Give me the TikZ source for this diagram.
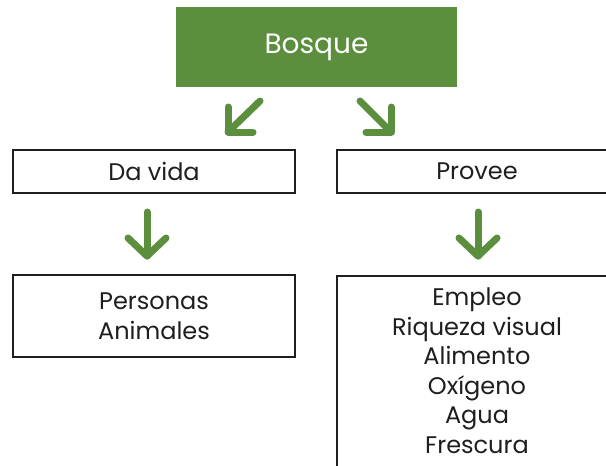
\documentclass[tikz,border=0pt]{standalone}
\usepackage{fontspec}
\setmainfont{Poppins}
\definecolor{leaf}{HTML}{5B8E3D}
\definecolor{ink}{HTML}{1E1E1E}
\begin{document}
\begin{tikzpicture}[x=1pt,y=-1pt,
  box/.style={draw=ink,line width=1.6pt,inner sep=0pt},
  lbl/.style={text=ink,font=\fontsize{24}{29.5}\selectfont,align=center},
  arr/.style={draw=leaf,line width=7pt,line cap=round,line join=round}]
\useasboundingbox (0,0) rectangle (606,466);
\clip (0,0) rectangle (606,466);
\node[fill=leaf,minimum width=281pt,minimum height=80pt,inner sep=0pt,text=white,font=\fontsize{28}{32}\selectfont] (bosque) at (316.5,47) {Bosque};
\node[box,lbl,minimum width=282pt,minimum height=43pt] (davida) at (154,171.5) {Da vida};
\node[box,lbl,minimum width=280pt,minimum height=43pt] (provee) at (477,171.5) {Provee};
\node[box,lbl,minimum width=282pt,minimum height=82pt] (personas) at (154,316) {Personas\\Animales};
\node[box,minimum width=280pt,minimum height=244pt] (provbox) at (477,398) {};
\node[lbl,anchor=north,inner sep=0pt] (provtxt) at (477,288) {Empleo\\Riqueza visual\\Alimento\\Oxígeno\\Agua\\Frescura};
% arrows
\coordinate (l1s) at (260,101); \coordinate (l1e) at (228,132);
\coordinate (r1s) at (360,101); \coordinate (r1e) at (391,132);
\coordinate (l2s) at (147,212); \coordinate (l2e) at (147,256);
\coordinate (r2s) at (478,212); \coordinate (r2e) at (478,256);
\draw[arr] (l1s) -- (l1e);
\draw[arr] ([yshift=25pt]l1e) -- (l1e) -- ([xshift=25pt]l1e);
\draw[arr] (r1s) -- (r1e);
\draw[arr] ([yshift=25pt]r1e) -- (r1e) -- ([xshift=-25pt]r1e);
\draw[arr] (l2s) -- (l2e);
\draw[arr] ([xshift=-19pt,yshift=18pt]l2e) -- (l2e) -- ([xshift=19pt,yshift=18pt]l2e);
\draw[arr] (r2s) -- (r2e);
\draw[arr] ([xshift=-19pt,yshift=18pt]r2e) -- (r2e) -- ([xshift=19pt,yshift=18pt]r2e);
\end{tikzpicture}
\end{document}
